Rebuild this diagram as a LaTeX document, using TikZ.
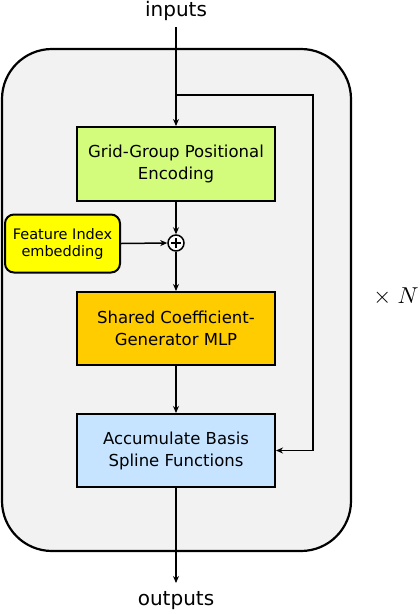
\documentclass[tikz,border=0pt]{standalone}
\usepackage{fontspec}
\setmainfont{DejaVu Sans}
\usetikzlibrary{arrows.meta}
\definecolor{bggray}{RGB}{242,242,242}
\definecolor{limegreen}{RGB}{212,252,124}
\definecolor{mlporange}{RGB}{255,204,0}
\definecolor{splineblue}{RGB}{198,228,255}
\definecolor{featyellow}{RGB}{255,255,0}
\begin{document}
\begin{tikzpicture}[x=1pt,y=-1pt,
  box/.style={draw=black, line width=2pt, minimum width=198pt, minimum height=74pt,
    align=center, inner sep=0pt, font=\fontsize{16.5}{22}\selectfont},
  conn/.style={line width=1.5pt, -{Stealth[length=7pt,width=6pt]}},
  lbl/.style={font=\fontsize{20}{24}\selectfont, inner sep=0pt}]
\useasboundingbox (0,0) rectangle (420,614);
\draw[line width=2.2pt, fill=bggray, rounded corners=50pt] (2,49) rectangle (351,551);
\node[lbl] (in) at (176,11) {inputs};
\node[lbl] (out) at (176,601) {outputs};
\node[box, fill=limegreen] (pe) at (176,164) {Grid-Group Positional\\Encoding};
\node[box, fill=mlporange, minimum height=73pt] (mlp) at (176,328.5) {Shared Coefficient-\\Generator MLP};
\node[box, fill=splineblue, minimum height=73pt] (acc) at (176,450.5) {Accumulate Basis\\Spline Functions};
\node[draw=black, line width=2pt, fill=featyellow, rounded corners=9pt, minimum width=115pt,
  minimum height=58pt, align=center, inner sep=0pt, font=\fontsize{14.5}{17}\selectfont]
  (fi) at (62.5,243.5) {Feature Index\\embedding};
\node[circle, draw=black, line width=1.5pt, fill=white, minimum size=16pt, inner sep=0pt] (add) at (176,243) {};
\draw[line width=1.5pt] ([xshift=-5pt]add.center) -- ([xshift=5pt]add.center)
  ([yshift=-5pt]add.center) -- ([yshift=5pt]add.center);
\node[scale=2.3, inner sep=0pt] (rep) at (396,297) {$\times\;N$};
\coordinate (intop) at (176,27);
\coordinate (split) at (176,95);
\coordinate (outend) at (176,583);
\draw[conn] (intop) -- (pe.north);
\draw[conn] (split) -- (313,95) |- (acc.east);
\draw[conn] (pe.south) -- (add.north);
\draw[conn] (fi.east) -- (add.west);
\draw[conn] (add.south) -- (mlp.north);
\draw[conn] (mlp.south) -- (acc.north);
\draw[conn] (acc.south) -- (outend);
\end{tikzpicture}
\end{document}
